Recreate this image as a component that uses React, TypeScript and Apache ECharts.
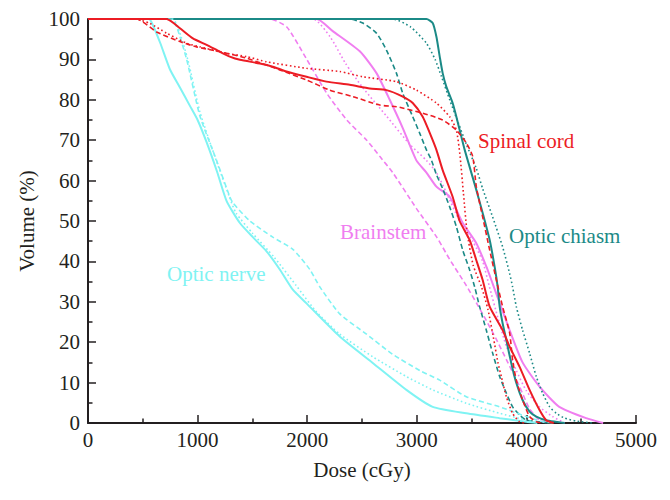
import React, { useEffect, useRef } from "react";
import * as echarts from "echarts";

// Dose (cGy) vs Volume (%) pairs
const opticNerveSolid = [[0,100],[555,100],[583,99],[660,94],[748,87.5],[840,83],[930,78.5],[1000,75],[1082,69.5],[1180,62],[1264,55],[1386,49.5],[1504,46],[1629,42.5],[1750,38],[1869,33],[1994,29.6],[2297,21.4],[2601,14.8],[2905,8.2],[3145,4],[3452,2.4],[3756,1.2],[3999,0.3],[4100,0]];
const opticNerveDashed = [[0,100],[766,100],[810,98],[900,90],[1021,76],[1173,65],[1294,56],[1322,54.5],[1477,50],[1686,46],[1869,43],[2024,38],[2115,33.7],[2297,27],[2541,22],[2780,17],[3027,13],[3209,10.6],[3452,6.5],[3756,4],[3999,1.6],[4148,0.3],[4250,0]];
const opticNerveDotted = [[0,100],[770,100],[820,98],[910,90],[1021,77],[1170,65],[1290,56],[1350,52],[1500,47],[1700,41],[1900,34],[2085,27.5],[2297,22],[2598,16.4],[2905,11.5],[3145,8.2],[3452,4.9],[3756,2.4],[3999,0.7],[4100,0]];

const brainstemSolid = [[0,100],[2085,100],[2233,97],[2480,92],[2632,86.6],[2753,80],[2872,73],[2996,65],[3088,62],[3179,58.5],[3300,56],[3419,49.5],[3543,44.5],[3635,38.7],[3692,34.5],[3847,23],[3965,15],[4120,9],[4300,4],[4546,1.2],[4700,0]];
const brainstemDashed = [[0,100],[1659,100],[1814,98],[1996,90],[2179,81.6],[2361,75],[2543,70],[2662,66],[2780,62],[2999,53],[3182,46],[3300,40.5],[3452,34],[3601,27],[3720,21],[3830,15],[3938,9],[4029,3.5],[4120,0.7],[4200,0]];
const brainstemDotted = [[0,100],[2051,100],[2209,95.6],[2350,89],[2507,83],[2723,76],[2935,69],[3088,65],[3179,62],[3270,57],[3391,50],[3510,45],[3601,40],[3660,34],[3740,26],[3817,19],[3908,13],[3999,8],[4120,4],[4239,1.6],[4350,0]];

const spinalCordSolid = [[0,100],[717,100],[839,97.7],[957,95.2],[1082,93.6],[1203,91.9],[1294,90.7],[1386,89.9],[1568,89],[1686,88.2],[1811,87],[1994,85.7],[2176,84.5],[2388,83.7],[2571,82.8],[2723,82.4],[2872,80.8],[2963,79.2],[3054,75.8],[3118,71.8],[3179,67.6],[3236,62.6],[3327,56],[3391,50],[3482,45.3],[3543,40.3],[3601,35.4],[3665,28.8],[3783,23],[3847,18.9],[3938,13.9],[4029,8.2],[4120,3.2],[4181,0.7],[4250,0]];
const spinalCordDashed = [[0,100],[443,100],[626,96.8],[839,94.4],[991,93.1],[1203,91.9],[1447,90.3],[1750,87.4],[1994,84.9],[2206,82.4],[2416,80.8],[2662,78.7],[2814,78.3],[3054,76.7],[3236,75],[3361,72.5],[3452,69.3],[3510,66],[3543,58.5],[3601,51],[3665,42.8],[3726,35.4],[3783,28.8],[3847,22.3],[3874,15.6],[3908,10.6],[3965,5.7],[4029,1.6],[4090,0.3],[4150,0]];
const spinalCordDotted = [[0,100],[430,100],[565,98.9],[717,96.5],[900,94],[1021,93.1],[1140,92.3],[1264,91.5],[1447,90.7],[1629,89.4],[1994,87.8],[2297,87],[2507,85.7],[2814,84.5],[2996,82.4],[3179,79.2],[3300,75.8],[3361,72.5],[3395,66],[3425,57],[3460,47],[3515,39],[3590,33.7],[3650,28],[3700,21],[3740,15],[3771,11.5],[3817,6.5],[3874,2.4],[3938,0.3],[3980,0]];

const opticChiasmSolid = [[0,100],[3088,100],[3145,99],[3179,95.6],[3209,90.7],[3236,86.6],[3270,83.2],[3327,79.2],[3361,75.8],[3406,70.9],[3437,67.6],[3482,63.4],[3543,57.7],[3601,52],[3665,45.3],[3710,38.7],[3738,33.7],[3756,28.8],[3783,24.7],[3817,20.5],[3862,14.8],[3908,9.9],[3965,5.7],[4029,2.8],[4090,1.6],[4181,0.7],[4273,0.3],[4350,0]];
const opticChiasmDashed = [[0,100],[2388,100],[2507,99],[2632,96.5],[2723,92.3],[2814,86.6],[2872,81.6],[2963,75.8],[3027,71.7],[3088,67.6],[3133,65.1],[3179,61.5],[3236,58],[3300,53.5],[3361,48.6],[3419,42.8],[3482,37.9],[3528,33.7],[3573,28.8],[3634,23],[3692,17.3],[3756,11.5],[3817,7.4],[3874,4],[3938,2],[3999,0.7],[4120,0.3],[4200,0]];
const opticChiasmDotted = [[0,100],[2780,100],[2945,98],[3088,94],[3167,90],[3226,85.7],[3300,80],[3380,74.2],[3452,69],[3543,63],[3601,58],[3692,51],[3783,43.6],[3847,37],[3874,33.7],[3908,28.8],[3965,23],[4029,17.3],[4090,11.5],[4148,7.4],[4212,4],[4273,2.4],[4350,1.2],[4450,0.5],[4600,0]];

const structureLabels = ["Optic nerve", "Brainstem", "Spinal cord", "Optic chiasm"];

const C_NERVE = "#7ff3f3";
const C_BRAIN = "#f07ef0";
const C_SPINAL = "#ec1c24";
const C_CHIASM = "#1b8a87";

const FONT = "'Liberation Serif', 'DejaVu Serif', serif";

function mk(name: string, data: number[][], color: string, kind: string) {
  return {
    name,
    type: "line",
    data,
    symbol: "none",
    showSymbol: false,
    smooth: 0.2,
    silent: true,
    lineStyle: {
      color,
      width: kind === "solid" ? 2 : 1.6,
      type: kind === "solid" ? "solid" : kind === "dashed" ? [5, 3] : [1.6, 2.6],
    },
  };
}

export default function App() {
  const ref = useRef<HTMLDivElement>(null);
  useEffect(() => {
    if (!ref.current) return;
    const chart = echarts.init(ref.current, null, { renderer: "svg" });
    const axisColor = "#231f20";
    chart.setOption({
      animation: false,
      backgroundColor: "#ffffff",
      grid: { left: 88, right: 34, top: 19, bottom: 77 },
      xAxis: {
        type: "value",
        min: 0,
        max: 5000,
        interval: 1000,
        name: "Dose (cGy)",
        nameLocation: "middle",
        nameGap: 36,
        nameTextStyle: { fontFamily: FONT, fontSize: 21, color: "#231f20" },
        axisLine: { show: true, lineStyle: { color: axisColor, width: 2 } },
        axisTick: { show: true, inside: true, length: 8, lineStyle: { color: axisColor, width: 1.5 } },
        minorTick: { show: true, splitNumber: 2, length: 4.5, lineStyle: { color: axisColor, width: 1.5 } },
        axisLabel: { fontFamily: FONT, fontSize: 21, color: "#231f20", margin: 6, formatter: (v: number) => String(v) },
        splitLine: { show: false },
        minorSplitLine: { show: false },
      },
      yAxis: {
        type: "value",
        min: 0,
        max: 100,
        interval: 10,
        name: "Volume (%)",
        nameLocation: "middle",
        nameGap: 50,
        nameTextStyle: { fontFamily: FONT, fontSize: 21, color: "#231f20" },
        axisLine: { show: true, lineStyle: { color: axisColor, width: 2 } },
        axisTick: { show: true, inside: true, length: 8, lineStyle: { color: axisColor, width: 1.5 } },
        minorTick: { show: true, splitNumber: 2, length: 4.5, lineStyle: { color: axisColor, width: 1.5 } },
        axisLabel: { fontFamily: FONT, fontSize: 21, color: "#231f20", margin: 8, formatter: (v: number) => String(v) },
        splitLine: { show: false },
        minorSplitLine: { show: false },
      },
      series: [
        mk("Brainstem dashed", brainstemDashed, C_BRAIN, "dashed"),
        mk("Brainstem dotted", brainstemDotted, C_BRAIN, "dotted"),
        mk("Brainstem", brainstemSolid, C_BRAIN, "solid"),
        mk("Optic chiasm dashed", opticChiasmDashed, C_CHIASM, "dashed"),
        mk("Optic chiasm dotted", opticChiasmDotted, C_CHIASM, "dotted"),
        mk("Optic chiasm", opticChiasmSolid, C_CHIASM, "solid"),
        mk("Optic nerve dashed", opticNerveDashed, C_NERVE, "dashed"),
        mk("Optic nerve dotted", opticNerveDotted, C_NERVE, "dotted"),
        mk("Optic nerve", opticNerveSolid, C_NERVE, "solid"),
        mk("Spinal cord dashed", spinalCordDashed, C_SPINAL, "dashed"),
        mk("Spinal cord dotted", spinalCordDotted, C_SPINAL, "dotted"),
        mk("Spinal cord", spinalCordSolid, C_SPINAL, "solid"),
      ],
      graphic: [
        { type: "text", x: 167, y: 274, style: { text: structureLabels[0], fill: C_NERVE, font: `21px ${FONT}`, verticalAlign: "middle" } },
        { type: "text", x: 340, y: 232, style: { text: structureLabels[1], fill: C_BRAIN, font: `21px ${FONT}`, verticalAlign: "middle" } },
        { type: "text", x: 478, y: 141, style: { text: structureLabels[2], fill: C_SPINAL, font: `21px ${FONT}`, verticalAlign: "middle" } },
        { type: "text", x: 509, y: 236, style: { text: structureLabels[3], fill: C_CHIASM, font: `21px ${FONT}`, verticalAlign: "middle" } },
      ],
    });
    return () => chart.dispose();
  }, []);
  return (
    <div
      ref={ref}
      style={{ position: "fixed", left: 0, top: 0, width: 670, height: 500, background: "#fff" }}
    />
  );
}
